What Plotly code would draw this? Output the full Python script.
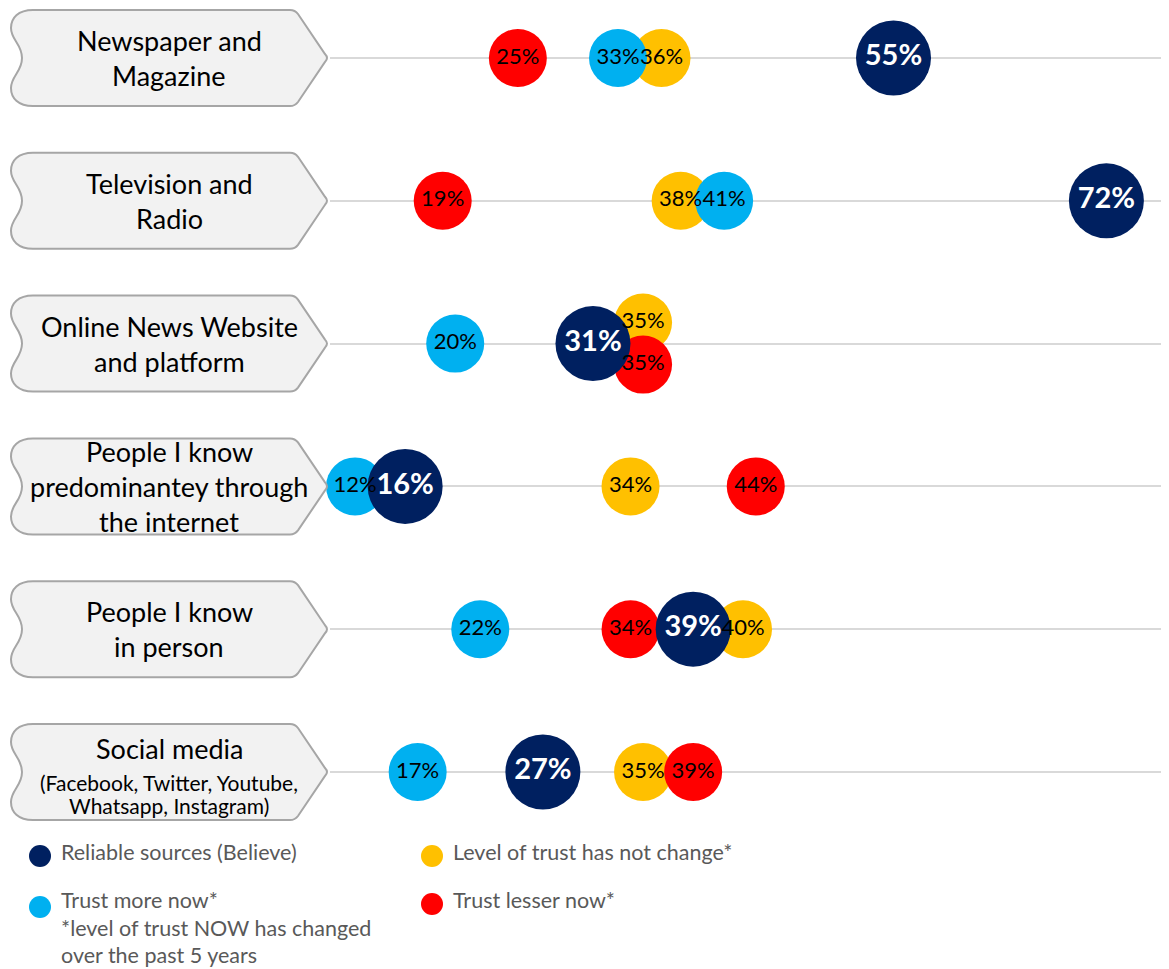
import plotly.graph_objects as go

# ---------------- data ----------------
categories = [
    "Newspaper and Magazine",
    "Television and Radio",
    "Online News Website and platform",
    "People I know predominantey through the internet",
    "People I know in person",
    "Social media",
]
box_labels = [
    ["Newspaper and", "Magazine"],
    ["Television and", "Radio"],
    ["Online News Website", "and platform"],
    ["People I know", "predominantey through", "the internet"],
    ["People I know", "in person"],
    ["Social media"],
]
social_sub = ["(Facebook, Twitter, Youtube,", "Whatsapp, Instagram)"]

reliable = [55, 72, 31, 16, 39, 27]        # Reliable sources (Believe)
not_changed = [36, 38, 35, 34, 40, 35]     # Level of trust has not change*
trust_more = [33, 41, 20, 12, 22, 17]      # Trust more now*
trust_less = [25, 19, 35, 44, 34, 39]      # Trust lesser now*

series_names = [
    "Reliable sources (Believe)",
    "Level of trust has not change*",
    "Trust more now*",
    "Trust lesser now*",
]
legend_lines = [
    ["Reliable sources (Believe)"],
    ["Level of trust has not change*"],
    ["Trust more now*", "*level of trust NOW has changed", "over the past 5 years"],
    ["Trust lesser now*"],
]
series_values = [reliable, not_changed, trust_more, trust_less]

# ---------------- style / layout ----------------
OFF = 8                      # page body margin offset
W, H = 1169 - OFF, 969 - OFF
FONT = "Lato"
colors = ["#002060", "#FFC000", "#00B0F0", "#FF0000"]
sizes = [75, 58, 58, 58]
text_colors = ["white", "black", "black", "black"]
text_sizes = [29, 22, 22, 22]
draw_order = [1, 3, 2, 0]    # orange, red, cyan, navy (navy on top)

X_LEFT_PX = 330 - OFF
X_MIN, X_MAX = 10, 77
ROW0_PX, ROW_STEP_PX = 58 - OFF, 142.8
px_per_unit = (W - X_LEFT_PX) / (X_MAX - X_MIN)
DODGE_K = 0.75
STACK_PX = 21


def fx(px):  # reference pixel x -> paper x
    return (px - OFF) / W


def fy(py):  # reference pixel y -> paper y
    return 1 - (py - OFF) / H


n = len(categories)

# bubble placement: x from the value, nudged apart where bubbles would collide
pos_x = [[None] * n for _ in series_values]
pos_y = [[None] * n for _ in series_values]
for r in range(n):
    items = sorted(range(len(series_values)), key=lambda s: series_values[s][r])
    placed = []
    for s in items:
        v = series_values[s][r]
        x = v
        dy = 0.0
        dup = [p for p in placed if series_values[p][r] == v]
        if dup:
            p = dup[0]
            x = pos_x[p][r]
            pos_y[p][r] = r - STACK_PX / ROW_STEP_PX
            dy = STACK_PX / ROW_STEP_PX
        else:
            for p in placed:
                need = DODGE_K * (sizes[p] + sizes[s]) / 2 / px_per_unit
                if x - pos_x[p][r] < need:
                    x = pos_x[p][r] + need
        pos_x[s][r] = x
        pos_y[s][r] = r + dy
        placed.append(s)

fig = go.Figure()

for s in draw_order:
    fig.add_trace(go.Scatter(
        x=pos_x[s], y=pos_y[s], mode="markers", name=series_names[s],
        marker=dict(color=colors[s], size=sizes[s], line=dict(width=0)),
        cliponaxis=False, showlegend=False,
        customdata=categories,
        text=[f"{v}%" for v in series_values[s]],
        hovertemplate="%{customdata}<br>" + series_names[s] + ": %{text}<extra></extra>",
    ))
for s in draw_order:
    fig.add_trace(go.Scatter(
        x=pos_x[s], y=pos_y[s], mode="text",
        text=[f"{v}%" for v in series_values[s]],
        textposition="middle center",
        textfont=dict(family=FONT, size=text_sizes[s], color=text_colors[s],
                      weight="bold" if s == 0 else "normal"),
        cliponaxis=False, showlegend=False, hoverinfo="skip",
    ))


# label boxes (arrow shaped, wavy left edge)
def box_path(row, h=48):
    def P(xpx, dypx):
        return f"{fx(xpx):.5f},{row + dypx / ROW_STEP_PX:.5f}"
    return (
        f"M {P(33, -h)} L {P(290, -h)} Q {P(295, -h)} {P(298, -h + 4)} "
        f"L {P(325, -4)} Q {P(329, 0)} {P(325, 4)} "
        f"L {P(298, h - 4)} Q {P(295, h)} {P(290, h)} "
        f"L {P(33, h)} C {P(18, h)} {P(11, h - 8)} {P(11, h - 18)} "
        f"C {P(11, h - 30)} {P(22, 14)} {P(22, 0)} "
        f"C {P(22, -14)} {P(11, -h + 30)} {P(11, -h + 18)} "
        f"C {P(11, -h + 8)} {P(18, -h)} {P(33, -h)} Z"
    )


LABEL_CX = 169
LINE_PX = 35
shapes = []
annotations = []
for r in range(n):
    shapes.append(dict(type="path", path=box_path(r), xref="paper", yref="y",
                       fillcolor="#F2F2F2", line=dict(color="#A6A6A6", width=2), layer="above"))
    if r < n - 1:
        lines = box_labels[r]
        for i, t in enumerate(lines):
            dy = (i - (len(lines) - 1) / 2) * LINE_PX
            annotations.append(dict(x=fx(LABEL_CX), xref="paper", xanchor="center",
                                    y=r + dy / ROW_STEP_PX, yref="y", yanchor="middle",
                                    text=t, showarrow=False,
                                    font=dict(family=FONT, size=27, color="black")))
    else:
        annotations.append(dict(x=fx(LABEL_CX), xref="paper", xanchor="center",
                                y=r - 24 / ROW_STEP_PX, yref="y", yanchor="middle",
                                text=box_labels[r][0], showarrow=False,
                                font=dict(family=FONT, size=27, color="black")))
        for i, t in enumerate(social_sub):
            annotations.append(dict(x=fx(LABEL_CX), xref="paper", xanchor="center",
                                    y=r + (10 + 23 * i) / ROW_STEP_PX, yref="y", yanchor="middle",
                                    text=t, showarrow=False,
                                    font=dict(family=FONT, size=21, color="black")))

# legend (drawn manually to match the original layout)
legend_dot = [(40, 856), (432, 856), (40, 907), (432, 904)]
legend_text_first_line = [852, 852, 900, 900]
LEGEND_LINE_PX = 27.5
for s, (lx, ly) in enumerate(legend_dot):
    rad = 11
    shapes.append(dict(type="circle", xref="paper", yref="paper",
                       x0=fx(lx - rad), x1=fx(lx + rad),
                       y0=fy(ly + rad), y1=fy(ly - rad),
                       fillcolor=colors[s], line=dict(width=0)))
    for i, t in enumerate(legend_lines[s]):
        annotations.append(dict(x=fx(lx + 19), xref="paper",
                                y=fy(legend_text_first_line[s] + i * LEGEND_LINE_PX), yref="paper",
                                xanchor="left", yanchor="middle", text=t,
                                showarrow=False, align="left",
                                font=dict(family=FONT, size=21.5, color="#595959")))

fig.update_layout(
    width=W, height=H,
    margin=dict(l=0, r=0, t=0, b=0),
    paper_bgcolor="white", plot_bgcolor="white",
    xaxis=dict(domain=[X_LEFT_PX / W, 1], range=[X_MIN, X_MAX], visible=False, fixedrange=True),
    yaxis=dict(domain=[0, 1],
               range=[(H - ROW0_PX) / ROW_STEP_PX, -ROW0_PX / ROW_STEP_PX],
               tickvals=list(range(n)), showticklabels=False, ticks="",
               showgrid=True, gridcolor="#D9D9D9", gridwidth=1.5,
               zeroline=False, showline=False, fixedrange=True),
    shapes=shapes, annotations=annotations,
    showlegend=False,
)

fig.write_html("out.html")
